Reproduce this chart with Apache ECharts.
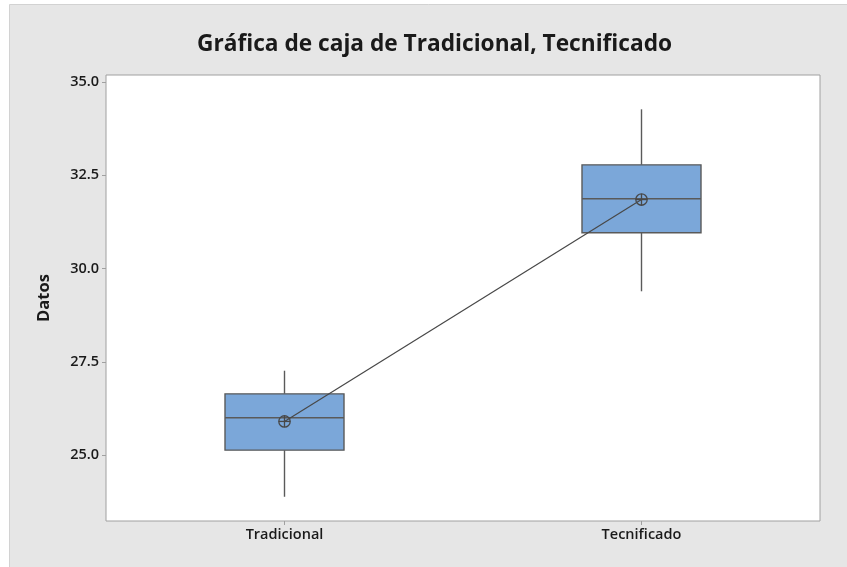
<!DOCTYPE html>
<html>
<head>
<meta charset="utf-8">
<title>Gráfica de caja</title>
<script src="https://cdn.jsdelivr.net/npm/echarts@6/dist/echarts.min.js"></script>
<style>
html, body { margin:0; padding:0; background:#fff; }
#main { width:847px; height:567px; }
</style>
</head>
<body>
<div id="main"></div>
<script>
// datos
var categorias = ['Tradicional', 'Tecnificado'];
// [min, Q1, mediana, Q3, max]
var cajas = [
  [23.88, 25.13, 26.00, 26.64, 27.26],
  [29.39, 30.96, 31.87, 32.78, 34.27]
];
var medias = [25.90, 31.85];
var ticksY = [25, 27.5, 30, 32.5, 35];

var chart = echarts.init(document.getElementById('main'));

var fuente = '"Open Sans", "DejaVu Sans", sans-serif';

chart.setOption({
  animation: false,
  backgroundColor: '#fff',
  graphic: [{
    type: 'rect',
    z: -10,
    shape: { x: 9.5, y: 4.5, width: 850, height: 570 },
    style: { fill: '#e6e6e6', stroke: '#d2d2d2', lineWidth: 1 }
  }],
  title: {
    text: 'Gráfica de caja de Tradicional, Tecnificado',
    left: 192,
    top: 28,
    textStyle: { fontFamily: fuente, fontWeight: 'bold', fontSize: 22.7, color: '#1a1a1a' }
  },
  grid: {
    left: 106, right: 27, top: 75, bottom: 46,
    show: true,
    backgroundColor: '#fff',
    borderColor: '#a0a0a0',
    borderWidth: 1
  },
  xAxis: {
    type: 'category',
    data: categorias,
    boundaryGap: true,
    axisLine: { show: false },
    axisTick: { show: true, alignWithLabel: true, length: 4, lineStyle: { color: '#a0a0a0' } },
    axisLabel: { fontFamily: fuente, fontWeight: 600, fontSize: 14.5, color: '#1a1a1a', margin: 6 },
    splitLine: { show: false }
  },
  yAxis: {
    type: 'value',
    min: 23.23,
    max: 35.19,
    name: 'Datos',
    nameLocation: 'middle',
    nameGap: 53,
    nameRotate: 90,
    nameTextStyle: { fontFamily: fuente, fontWeight: 'bold', fontSize: 16.5, color: '#1a1a1a' },
    axisLine: { show: false },
    axisTick: { show: true, length: 4, customValues: ticksY, lineStyle: { color: '#a0a0a0' } },
    axisLabel: {
      customValues: ticksY,
      fontFamily: fuente, fontWeight: 600, fontSize: 14.5, color: '#1a1a1a', margin: 7,
      formatter: function (v) { return v.toFixed(1); }
    },
    splitLine: { show: false }
  },
  series: [
    {
      // cajas sin tope en los bigotes (estilo Minitab)
      type: 'custom',
      data: cajas.map(function (c, i) { return [i].concat(c); }),
      z: 2,
      renderItem: function (params, api) {
        var x = api.value(0);
        var pMin = api.coord([x, api.value(1)]);
        var pQ1 = api.coord([x, api.value(2)]);
        var pMed = api.coord([x, api.value(3)]);
        var pQ3 = api.coord([x, api.value(4)]);
        var pMax = api.coord([x, api.value(5)]);
        var w = 119;
        var cx = pMed[0];
        var linea = { stroke: '#5a5a5a', lineWidth: 1.4, fill: null };
        return {
          type: 'group',
          children: [
            { type: 'line', shape: { x1: cx, y1: pMax[1], x2: cx, y2: pQ3[1] }, style: linea },
            { type: 'line', shape: { x1: cx, y1: pQ1[1], x2: cx, y2: pMin[1] }, style: linea },
            { type: 'rect', shape: { x: cx - w / 2, y: pQ3[1], width: w, height: pQ1[1] - pQ3[1] },
              style: { fill: '#7ba7d9', stroke: '#5a5a5a', lineWidth: 1.4 } },
            { type: 'line', shape: { x1: cx - w / 2, y1: pMed[1], x2: cx + w / 2, y2: pMed[1] }, style: linea }
          ]
        };
      }
    },
    {
      type: 'line',
      data: medias,
      showSymbol: false,
      symbol: 'none',
      lineStyle: { color: '#484848', width: 1.2 },
      z: 3
    },
    {
      type: 'custom',
      data: medias.map(function (m, i) { return [i, m]; }),
      z: 4,
      renderItem: function (params, api) {
        var p = api.coord([api.value(0), api.value(1)]);
        var r = 5.7;
        var st = { stroke: '#484848', lineWidth: 1.3, fill: null };
        return {
          type: 'group',
          children: [
            { type: 'circle', shape: { cx: p[0], cy: p[1], r: r }, style: st },
            { type: 'line', shape: { x1: p[0] - r, y1: p[1], x2: p[0] + r, y2: p[1] }, style: st },
            { type: 'line', shape: { x1: p[0], y1: p[1] - r, x2: p[0], y2: p[1] + r }, style: st }
          ]
        };
      }
    }
  ]
});
</script>
</body>
</html>
